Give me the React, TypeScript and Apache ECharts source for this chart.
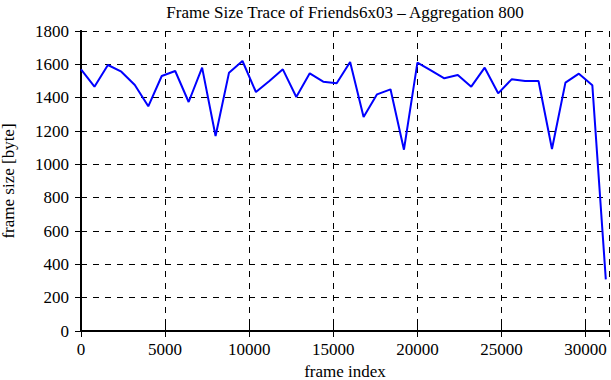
import React, { useEffect, useRef } from "react";
import * as echarts from "echarts";

const frameIndex: number[] = Array.from({ length: 40 }, (_, i) => i * 800);
const frameSize: number[] = [
  1570, 1466, 1596, 1556, 1476, 1348, 1530, 1560, 1374, 1580,
  1170, 1550, 1620, 1434, 1500, 1570, 1404, 1546, 1496, 1486,
  1614, 1284, 1420, 1450, 1088, 1610, 1564, 1516, 1536, 1466,
  1580, 1426, 1510, 1500, 1500, 1092, 1490, 1544, 1474, 310,
];
const xMax = 31390;
const yTicks = [0, 200, 400, 600, 800, 1000, 1200, 1400, 1600, 1800];

const FONT = "Liberation Serif";
const FS = 17;

export default function App() {
  const ref = useRef<HTMLDivElement>(null);
  useEffect(() => {
    if (!ref.current) return;
    const chart = echarts.init(ref.current, null, { renderer: "svg" });
    const data = frameIndex.map((x, i) => [x, frameSize[i]]);
    const axisLine = { show: true, lineStyle: { color: "#000", width: 2 } };
    const split = { show: true, lineStyle: { color: "#000", type: [6, 6] as any, width: 1 } };
    const tick = { show: true, inside: true, length: 6, lineStyle: { color: "#000", width: 1 } };
    chart.setOption({
      animation: false,
      backgroundColor: "#fff",
      textStyle: { fontFamily: FONT },
      title: {
        text: "Frame Size Trace of Friends6x03 – Aggregation 800",
        left: 340,
        textAlign: "center",
        top: -1,
        textStyle: { fontFamily: FONT, fontSize: FS, fontWeight: "normal", color: "#000" },
      },
      grid: { left: 81, right: 2, top: 31, bottom: 49, containLabel: false, outerBoundsMode: "none" },
      xAxis: [
        {
          type: "value",
          min: 0,
          max: xMax,
          interval: 5000,
          name: "frame index",
          nameLocation: "middle",
          nameGap: 26,
          nameTextStyle: { fontFamily: FONT, fontSize: FS, color: "#000" },
          axisLine,
          axisTick: tick,
          axisLabel: {
            fontFamily: FONT,
            fontSize: FS,
            color: "#000",
            margin: 10,
            showMaxLabel: false,
            formatter: (v: number) => String(v),
          },
          splitLine: split,
        },
        {
          type: "value",
          position: "top",
          min: 0,
          max: xMax,
          interval: 5000,
          axisLine,
          axisTick: tick,
          axisLabel: { show: false },
          splitLine: { show: false },
        },
      ],
      yAxis: [
        {
          type: "value",
          min: 0,
          max: 1800,
          interval: 200,
          name: "frame size [byte]",
          nameLocation: "middle",
          nameGap: 64,
          nameTextStyle: { fontFamily: FONT, fontSize: FS, color: "#000" },
          axisLine,
          axisTick: tick,
          axisLabel: {
            fontFamily: FONT,
            fontSize: FS,
            color: "#000",
            margin: 12,
            formatter: (v: number) => (yTicks.includes(v) ? String(v) : ""),
          },
          splitLine: split,
        },
        {
          type: "value",
          position: "right",
          min: 0,
          max: 1800,
          interval: 200,
          axisLine,
          axisTick: tick,
          axisLabel: { show: false },
          splitLine: { show: false },
        },
      ],
      series: [
        {
          type: "line",
          data,
          xAxisIndex: 0,
          yAxisIndex: 0,
          showSymbol: false,
          symbol: "none",
          lineStyle: { color: "#0000ff", width: 2 },
        },
      ],
    });
    return () => chart.dispose();
  }, []);
  return <div ref={ref} style={{ width: 611, height: 380, position: "absolute", left: 0, top: 0 }} />;
}
